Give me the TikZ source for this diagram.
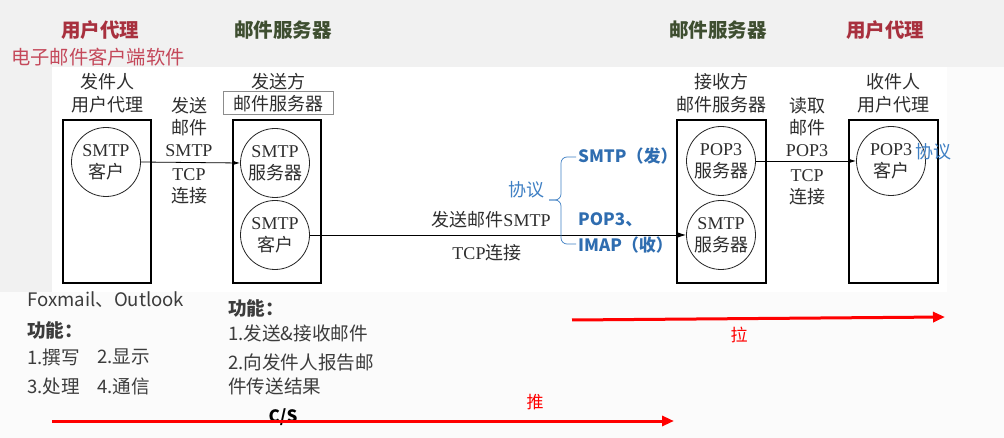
\documentclass[tikz,border=0pt]{standalone}
\usepackage{fontspec}
\setmainfont{Liberation Serif}
\newfontfamily\cjk{Noto Sans CJK SC}
\usetikzlibrary{arrows.meta}
\definecolor{bggray}{HTML}{F1F1F1}
\definecolor{bglow}{HTML}{FBFBFB}
\definecolor{txtgray}{HTML}{2E2E2E}
\definecolor{lowgray}{HTML}{3C3C3C}
\definecolor{titlered}{HTML}{A8303E}
\definecolor{subred}{HTML}{C4485A}
\definecolor{titlegreen}{HTML}{3E4E30}
\definecolor{protoblue}{HTML}{2F6DB0}
\definecolor{lightblue}{HTML}{3F80C4}
\definecolor{arrred}{HTML}{FF0000}
\newcommand\diagfont{\fontsize{18}{22}\selectfont}
\newcommand\lowfont{\fontsize{18.6}{22}\selectfont\cjk}
\begin{document}
\begin{tikzpicture}[x=1pt,y=-1pt,
  box/.style={draw=black,line width=1.7pt,minimum width=88pt,minimum height=163pt,inner sep=0pt},
  circ/.style={circle,draw=black!85,line width=0.8pt,minimum size=69pt,inner sep=0pt,align=center,font=\diagfont,text=txtgray},
  lbl/.style={font=\diagfont,align=center,text=txtgray,inner sep=0pt},
  low/.style={font=\lowfont,text=lowgray,anchor=west,inner sep=0pt},
  title/.style={font=\fontsize{19.5}{23}\selectfont\cjk\bfseries,inner sep=0pt},
  proto/.style={font=\fontsize{17}{20}\selectfont\cjk\bfseries,text=protoblue,anchor=west,inner sep=0pt},
  arr/.style={-{Latex[length=8pt,width=5pt]},line width=0.8pt,black},
  redarr/.style={-{Triangle[length=12pt,width=10pt]},line width=3pt,arrred}]
\useasboundingbox (0,0) rectangle (1004,438);
% background
\fill[bglow] (0,0) rectangle (1004,438);
\fill[bggray] (0,0) rectangle (1004,67);
\fill[bggray] (0,67) rectangle (52,292);
\fill[white] (52,67) rectangle (947,292);
% titles
\node[title,text=titlered] (t1) at (100,30) {用户代理};
\node[font=\fontsize{19.3}{23}\selectfont\cjk,text=subred,inner sep=0pt] (t1b) at (98,57) {电子邮件客户端软件};
\node[title,text=titlegreen] (t2) at (283,30) {邮件服务器};
\node[title,text=titlegreen] (t3) at (718,30) {邮件服务器};
\node[title,text=titlered] (t4) at (885,30) {用户代理};
% boxes
\node[box] (b1) at (107,201.5) {};
\node[box] (b2) at (276.7,201.5) {};
\node[box,minimum width=89pt] (b3) at (721.3,201.5) {};
\node[box,minimum width=89pt] (b4) at (893.4,201.5) {};
% box labels
\node[lbl] (l1) at (107,93.5) {{\cjk 发件人}\\[1pt]{\cjk 用户代理}};
\node[lbl] (l2a) at (278,82) {\cjk 发送方};
\node[lbl,draw=black!45,line width=0.6pt,minimum width=110pt,minimum height=23pt] (l2b) at (278.3,103.3) {\cjk 邮件服务器};
\node[lbl] (l3) at (721.5,93.5) {{\cjk 接收方}\\[1pt]{\cjk 邮件服务器}};
\node[lbl] (l4) at (893,93.5) {{\cjk 收件人}\\[1pt]{\cjk 用户代理}};
% circles
\node[circ] (c1) at (106,162) {SMTP\\{\cjk 客户}};
\node[circ] (c2) at (275,163) {SMTP\\{\cjk 服务器}};
\node[circ] (c3) at (275,235) {SMTP\\{\cjk 客户}};
\node[circ] (c4) at (721,161) {POP3\\{\cjk 服务器}};
\node[circ] (c5) at (721,235) {SMTP\\{\cjk 服务器}};
\node[circ] (c6) at (891,161) {POP3\\{\cjk 客户}};
% connectors
\draw[arr] (c1.east) -- (c2.west);
\draw[arr] (c3.east) -- (c5.west);
\draw[arr] (c4.east) -- (c6.west);
% connector labels
\node[lbl] (m1) at (189,127) {{\cjk 发送}\\{\cjk 邮件}\\SMTP};
\node[lbl] (m2) at (189,186) {TCP\\{\cjk 连接}};
\node[lbl] (m3) at (807,127) {{\cjk 读取}\\{\cjk 邮件}\\POP3};
\node[lbl] (m4) at (807,187) {TCP\\{\cjk 连接}};
\node[lbl] (m5) at (491,220) {{\cjk 发送邮件}SMTP};
\node[lbl] (m6) at (487,253) {TCP{\cjk 连接}};
% protocol brace
\node[font=\fontsize{18}{22}\selectfont\cjk,text=lightblue,inner sep=0pt] (p0) at (526,190) {协议};
\coordinate (bt) at (576,157);
\coordinate (bb) at (576,244);
\coordinate (bm) at (549,200);
\draw[lightblue,line width=0.7pt,rounded corners=6pt] (bt) -- (561,157) -- (561,200) -- (bm);
\draw[lightblue,line width=0.7pt,rounded corners=6pt] (bb) -- (561,244) -- (561,200) -- (bm);
\node[proto] (p1) at (578,156) {SMTP（发）};
\node[proto] (p2) at (578,220) {POP3、};
\node[proto] (p3) at (578,245) {IMAP（收）};
\node[font=\fontsize{18}{22}\selectfont\cjk,text=lightblue,inner sep=0pt] (p4) at (933,152) {协议};
% lower texts
\node[low] (f1) at (27,300) {Foxmail、Outlook};
\node[low,font=\lowfont\bfseries] (f2) at (27,330) {功能：};
\node[low] (f3) at (27,357) {1.撰写};
\node[low] (f4) at (97,357) {2.显示};
\node[low] (f5) at (27,386) {3.处理};
\node[low] (f6) at (97,386) {4.通信};
\node[low,font=\lowfont\bfseries] (g1) at (228,308) {功能：};
\node[low] (g2) at (228,333) {1.发送\&接收邮件};
\node[low] (g3) at (228,362) {2.向发件人报告邮};
\node[low] (g4) at (228,386) {件传送结果};
% push / pull
\node[font=\fontsize{17}{20}\selectfont\cjk\bfseries,text=black,inner sep=0pt] (cs) at (283,417) {C/S};
\coordinate (pushA) at (52,421);
\coordinate (pushB) at (674,421);
\draw[redarr] (pushA) -- (pushB);
\node[font=\fontsize{17}{20}\selectfont\cjk,text=arrred,inner sep=0pt] (push) at (535,402) {推};
\coordinate (pullA) at (572,320);
\coordinate (pullB) at (945,317);
\draw[redarr] (pullA) -- (pullB);
\node[font=\fontsize{17}{20}\selectfont\cjk,text=arrred,inner sep=0pt] (pull) at (739,335) {拉};
\end{tikzpicture}
\end{document}
